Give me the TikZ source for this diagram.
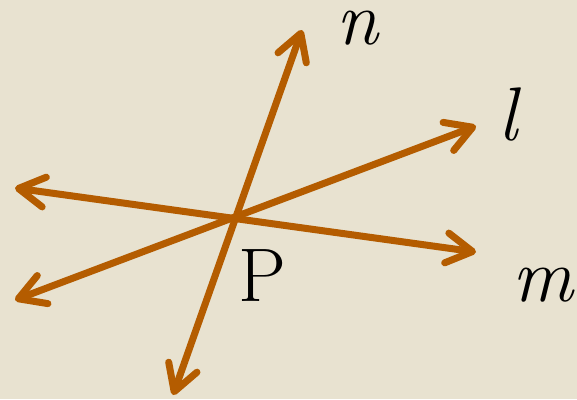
\documentclass[tikz,border=0pt]{standalone}
\usepackage{fontspec}
\usetikzlibrary{arrows.meta}
\definecolor{lineorange}{RGB}{180,92,0}
\definecolor{paper}{RGB}{232,226,208}
\tikzset{
  ray/.style={line width=7pt,lineorange,line cap=round,
    {Straight Barb[length=26pt,width=30pt,round]}-{Straight Barb[length=26pt,width=30pt,round]}},
  lab/.style={inner sep=0pt,font=\fontsize{76}{76}\selectfont}
}
\begin{document}
\begin{tikzpicture}[x=1pt,y=-1pt]
\fill[paper] (0,0) rectangle (577,399);
\useasboundingbox (0,0) rectangle (577,399);
\coordinate (P) at (233,218);
\coordinate (nTop) at (302,30);\coordinate (nBot) at (173,395);
\coordinate (lRight) at (476,126);\coordinate (lLeft) at (15,300);
\coordinate (mRight) at (476,252);\coordinate (mLeft) at (15,188);
\draw[ray] (mLeft)--(mRight);
\draw[ray] (lLeft)--(lRight);
\draw[ray] (nBot)--(nTop);
\node[lab] (nLab) at (357,28) {\itshape n};
\node[lab] (lLab) at (508,115) {\itshape l};
\node[lab] (mLab) at (543,285) {\itshape m};
\node[lab] (pLab) at (262,276) {P};
\end{tikzpicture}
\end{document}
